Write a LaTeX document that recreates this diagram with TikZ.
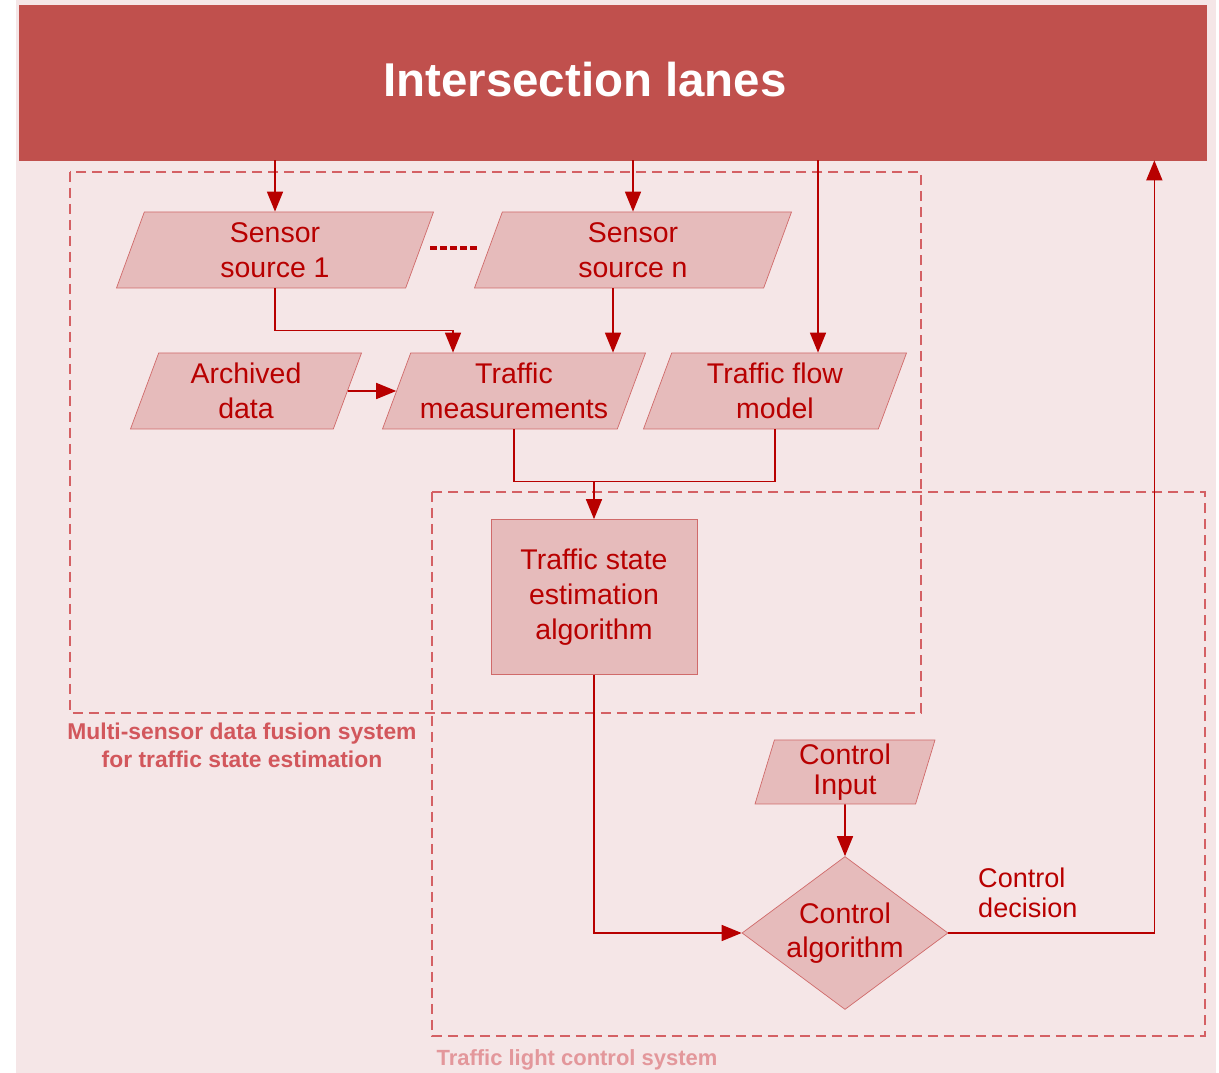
\documentclass[tikz,border=0pt]{standalone}
\usepackage{fontspec}
\setmainfont{Liberation Sans}
\usepackage{tikz}
\usetikzlibrary{shapes.geometric, arrows.meta}
\usetikzlibrary{calc}
\usetikzlibrary{positioning}

\definecolor{bgpink}{HTML}{F5E6E7}
\definecolor{barred}{HTML}{C0504D}
\definecolor{boxfill}{HTML}{E6BBBB}
\definecolor{boxline}{HTML}{D06A6A}
\definecolor{darkred}{HTML}{B80000}
\definecolor{framered}{HTML}{D46064}
\definecolor{labelred}{HTML}{D2575C}
\definecolor{palered}{HTML}{E3979B}

\tikzstyle{io} = [trapezium, trapezium left angle=63, trapezium right angle=117, trapezium stretches body, minimum height=1.52cm, inner sep=0pt, text centered, align=center, draw=boxline, fill=boxfill, text=darkred, font=\fontsize{16.2}{19.6}\selectfont]
\tikzstyle{process} = [rectangle, minimum width=4.12cm, minimum height=3.1cm, align=center, draw=boxline, fill=boxfill, text=darkred, font=\fontsize{16.2}{20}\selectfont]
\tikzstyle{decision} = [diamond, aspect=1.35, minimum width=4.12cm, minimum height=3.06cm, inner sep=0pt, align=center, draw=boxline, fill=boxfill, text=darkred, font=\fontsize{16.2}{19.6}\selectfont]
\tikzstyle{frame} = [draw=framered, line width=0.9pt, dash pattern=on 0.2cm off 0.12cm]
\tikzstyle{line} = [darkred, line width=0.9pt]
\tikzstyle{arrow} = [line, -{Triangle[length=0.4cm,width=0.32cm]}]

\begin{document}
\begin{tikzpicture}
\useasboundingbox (0,0) rectangle (24.38,-21.46);
\fill[bgpink] (0.32,0) rectangle (24.32,-21.46);

% dashed system frames
\draw[frame] (1.40,-3.44) rectangle (18.42,-14.26);
\draw[frame] (8.64,-9.84) rectangle (24.10,-20.72);

% top bar
\node (lanes) [rectangle, fill=barred, draw=barred, minimum width=23.74cm, minimum height=3.1cm] at (12.25,-1.65) {};
\node (title) [text=white, font=\fontsize{27}{33}\selectfont\bfseries] at (11.70,-1.59) {Intersection lanes};

% data fusion part
\node (s1) [io, minimum width=6.34cm] at (5.50,-5.00) {Sensor\\source 1};
\node (sn) [io, minimum width=6.34cm] at (12.66,-5.00) {Sensor\\source n};
\node (ad) [io, minimum width=4.62cm] at (4.92,-7.82) {Archived\\data};
\node (tm) [io, minimum width=5.26cm] at (10.28,-7.82) {Traffic\\measurements};
\node (tfm) [io, minimum width=5.26cm] at (15.50,-7.82) {Traffic flow\\model};
\node (tsea) [process] at (11.88,-11.94) {Traffic state\\estimation\\algorithm};

% control part
\node (ci) [io, trapezium left angle=71, trapezium right angle=109, minimum width=3.6cm, minimum height=1.28cm, font=\fontsize{16.2}{17}\selectfont] at (16.90,-15.44) {Control\\Input};
\node (ca) [decision] at (16.90,-18.66) {Control\\algorithm};
\node (cd) [anchor=west, align=left, text=darkred, font=\fontsize{15.4}{17}\selectfont] at (19.44,-17.86) {Control\\decision};

% frame captions
\node (fusion) [align=center, text=labelred, font=\fontsize{13}{15.9}\selectfont\bfseries] at (4.84,-14.90) {Multi-sensor data fusion system\\for traffic state estimation};
\node (tlcs) [text=palered, font=\fontsize{12.5}{15}\selectfont\bfseries] at (11.54,-21.20) {Traffic light control system};

\draw[darkred, line width=1.8pt, dash pattern=on 0.14cm off 0.06cm] (8.60,-4.96) -- (9.56,-4.96);

% connectors
\draw[arrow] (lanes.south -| s1.north) -- (s1.north);
\draw[arrow] (lanes.south -| sn.north) -- (sn.north);
\draw[arrow] ([xshift=0.86cm]tfm.north |- lanes.south) -- ([xshift=0.86cm]tfm.north);
\draw[arrow] (s1.south) -- ++(0,-0.84) -| ([xshift=-1.22cm]tm.north);
\draw[arrow] ([xshift=-0.40cm]sn.south) -- ([xshift=-0.40cm]sn.south |- tm.north);
\draw[arrow] (ad.east) -- (tm.west);
\draw[line] (tm.south) -- ++(0,-1.04) -| (tfm.south);
\coordinate (join) at ([yshift=-1.04cm]tm.south -| tsea.north);
\draw[arrow] (join) -- (tsea.north);
\draw[arrow] (tsea.south) |- (ca.west);
\draw[arrow] (ci.south) -- (ca.north);
\draw[arrow] (ca.east) -- ++(4.12,0) coordinate (fb) -- (fb |- lanes.south);

\end{tikzpicture}
\end{document}
